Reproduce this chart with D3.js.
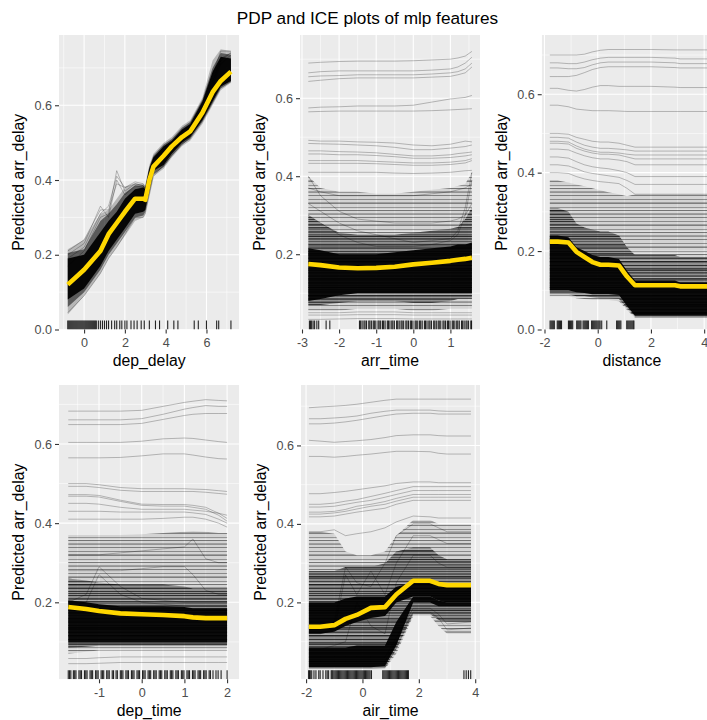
<!DOCTYPE html>
<html>
<head>
<meta charset="utf-8">
<script src="https://cdnjs.cloudflare.com/ajax/libs/d3/7.8.5/d3.min.js"></script>
<style>
  body { margin: 0; background: #fff; }
  svg { display: block; font-family: "Liberation Sans", Arial, sans-serif; }
</style>
</head>
<body>
<svg id="chart" width="707" height="720"></svg>
<script>
// ---- dep_delay ----
const depDelayGrid = [-0.8, 0, 0.8, 1.2, 1.6, 2.0, 2.5, 2.9, 3.0, 3.2, 3.4, 3.9, 4.3, 4.8, 5.2, 5.8, 6.3, 6.7, 7.2];
const depDelayPdp = [0.12, 0.16, 0.21, 0.255, 0.285, 0.315, 0.35, 0.35, 0.347, 0.40, 0.436, 0.465, 0.49, 0.515, 0.53, 0.58, 0.635, 0.665, 0.69];
const depDelayOuter = [
  [0.04, 0.09, 0.15, 0.19, 0.22, 0.25, 0.29, 0.30, 0.31, 0.36, 0.41, 0.43, 0.46, 0.49, 0.505, 0.55, 0.60, 0.64, 0.66],
  [0.215, 0.24, 0.31, 0.32, 0.35, 0.38, 0.39, 0.39, 0.385, 0.44, 0.47, 0.50, 0.515, 0.545, 0.56, 0.62, 0.72, 0.75, 0.745]
];
const depDelayMid = [
  [0.06, 0.10, 0.16, 0.20, 0.23, 0.26, 0.30, 0.305, 0.315, 0.365, 0.415, 0.435, 0.465, 0.495, 0.51, 0.555, 0.605, 0.645, 0.662],
  [0.205, 0.215, 0.29, 0.31, 0.335, 0.365, 0.385, 0.385, 0.38, 0.435, 0.465, 0.495, 0.51, 0.54, 0.555, 0.615, 0.70, 0.74, 0.735]
];
const depDelayCore = [
  [0.08, 0.11, 0.17, 0.21, 0.24, 0.27, 0.31, 0.315, 0.32, 0.375, 0.425, 0.44, 0.47, 0.50, 0.515, 0.56, 0.61, 0.65, 0.665],
  [0.19, 0.20, 0.26, 0.29, 0.315, 0.35, 0.375, 0.38, 0.375, 0.43, 0.46, 0.49, 0.505, 0.535, 0.55, 0.61, 0.69, 0.73, 0.725]
];
const depDelayLines = [
  [0.17, 0.21, 0.30, 0.31, 0.425, 0.37, 0.39, 0.385, 0.37, 0.42, 0.455, 0.475, 0.495, 0.525, 0.54, 0.59, 0.66, 0.72, 0.74],
  [0.20, 0.23, 0.33, 0.30, 0.40, 0.36, 0.385, 0.38, 0.36, 0.415, 0.45, 0.47, 0.49, 0.52, 0.535, 0.585, 0.65, 0.71, 0.735],
  [0.19, 0.22, 0.31, 0.33, 0.41, 0.38, 0.39, 0.385, 0.375, 0.425, 0.455, 0.48, 0.50, 0.53, 0.545, 0.595, 0.665, 0.725, 0.74],
  [0.045, 0.09, 0.15, 0.19, 0.22, 0.255, 0.30, 0.30, 0.31, 0.36, 0.41, 0.44, 0.465, 0.495, 0.515, 0.565, 0.615, 0.65, 0.67],
  [0.21, 0.24, 0.32, 0.32, 0.39, 0.38, 0.395, 0.39, 0.38, 0.43, 0.46, 0.48, 0.50, 0.53, 0.545, 0.595, 0.68, 0.745, 0.745]
];
const depDelayRug = [-0.8, -0.75, -0.7, -0.65, -0.6, -0.55, -0.5, -0.45, -0.4, -0.35, -0.3, -0.25, -0.2, -0.15, -0.1, -0.05,
  0, 0.05, 0.1, 0.15, 0.2, 0.25, 0.3, 0.35, 0.4, 0.45, 0.5, 0.55, 0.6, 0.7, 0.8, 0.9, 1.0, 1.1, 1.2, 1.35, 1.5, 1.6,
  1.75, 1.85, 2.0, 2.1, 2.3, 2.45, 2.6, 2.8, 2.95, 3.2, 3.5, 3.7, 4.1, 4.4, 4.6, 5.4, 5.6, 6.0, 6.5, 6.6, 7.2];
const depDelayXTicks = [0, 2, 4, 6];
const depDelayYTicks = [0, 0.2, 0.4, 0.6];

// ---- arr_time ----
const arrTimeGrid = [-2.83, -2.5, -2.0, -1.5, -1.0, -0.5, 0, 0.5, 1.0, 1.2, 1.4, 1.58];
const arrTimePdp = [0.175, 0.172, 0.166, 0.164, 0.165, 0.168, 0.174, 0.178, 0.183, 0.186, 0.188, 0.191];
const arrTimeOuter = [
  [0.055, 0.055, 0.055, 0.06, 0.06, 0.06, 0.055, 0.055, 0.06, 0.06, 0.06, 0.06],
  [0.40, 0.37, 0.36, 0.36, 0.355, 0.355, 0.36, 0.365, 0.37, 0.375, 0.38, 0.41]
];
const arrTimeMid = [
  [0.07, 0.07, 0.075, 0.08, 0.08, 0.08, 0.075, 0.075, 0.08, 0.085, 0.085, 0.085],
  [0.30, 0.28, 0.255, 0.25, 0.25, 0.25, 0.255, 0.26, 0.265, 0.27, 0.29, 0.32]
];
const arrTimeCore = [
  [0.08, 0.085, 0.095, 0.10, 0.10, 0.10, 0.10, 0.10, 0.10, 0.10, 0.10, 0.10],
  [0.215, 0.21, 0.20, 0.20, 0.20, 0.205, 0.21, 0.215, 0.22, 0.225, 0.225, 0.23]
];
const arrTimeLines = [
  [0.69, 0.692, 0.694, 0.695, 0.695, 0.695, 0.696, 0.698, 0.70, 0.703, 0.708, 0.72],
  [0.665, 0.668, 0.67, 0.67, 0.67, 0.67, 0.67, 0.672, 0.675, 0.68, 0.69, 0.705],
  [0.655, 0.657, 0.658, 0.66, 0.66, 0.66, 0.66, 0.662, 0.665, 0.668, 0.675, 0.69],
  [0.643, 0.646, 0.65, 0.652, 0.652, 0.652, 0.652, 0.654, 0.656, 0.66, 0.665, 0.68],
  [0.575, 0.577, 0.578, 0.58, 0.58, 0.58, 0.582, 0.59, 0.598, 0.60, 0.602, 0.607],
  [0.565, 0.566, 0.567, 0.567, 0.567, 0.567, 0.567, 0.568, 0.57, 0.571, 0.572, 0.573],
  [0.492, 0.49, 0.49, 0.488, 0.487, 0.485, 0.48, 0.478, 0.482, 0.486, 0.49, 0.488],
  [0.484, 0.483, 0.482, 0.48, 0.478, 0.474, 0.468, 0.468, 0.472, 0.474, 0.476, 0.48],
  [0.465, 0.465, 0.463, 0.462, 0.46, 0.456, 0.452, 0.452, 0.455, 0.458, 0.46, 0.462],
  [0.457, 0.457, 0.455, 0.455, 0.453, 0.45, 0.446, 0.446, 0.448, 0.45, 0.452, 0.455],
  [0.44, 0.44, 0.44, 0.44, 0.438, 0.436, 0.434, 0.434, 0.436, 0.438, 0.44, 0.445],
  [0.433, 0.433, 0.433, 0.433, 0.432, 0.43, 0.428, 0.428, 0.43, 0.432, 0.434, 0.44],
  [0.41, 0.41, 0.41, 0.41, 0.41, 0.408, 0.407, 0.408, 0.41, 0.412, 0.414, 0.415],
  [0.40, 0.35, 0.31, 0.29, 0.285, 0.28, 0.28, 0.28, 0.285, 0.29, 0.30, 0.33],
  [0.33, 0.31, 0.28, 0.26, 0.25, 0.24, 0.23, 0.235, 0.24, 0.26, 0.32, 0.41],
  [0.30, 0.28, 0.25, 0.23, 0.22, 0.22, 0.22, 0.225, 0.235, 0.25, 0.30, 0.39],
  [0.37, 0.36, 0.35, 0.35, 0.35, 0.35, 0.35, 0.355, 0.36, 0.365, 0.37, 0.38],
  [0.05, 0.05, 0.05, 0.052, 0.052, 0.052, 0.05, 0.05, 0.05, 0.05, 0.05, 0.05],
  [0.044, 0.044, 0.044, 0.045, 0.045, 0.045, 0.044, 0.044, 0.044, 0.044, 0.044, 0.044],
  [0.033, 0.033, 0.034, 0.035, 0.035, 0.035, 0.034, 0.034, 0.034, 0.034, 0.034, 0.034]
];
const arrTimeRug = [-2.8, -2.77, -2.74, -2.7, -2.66, -2.6, -2.55, -2.35, -2.25,
  -1.45, -1.42, -1.38, -1.33, -1.3, -1.26, -1.2, -1.17, -1.13, -1.08, -1.05, -1.01, -0.95, -0.92, -0.88, -0.83,
  -0.8, -0.76, -0.7, -0.67, -0.63, -0.58, -0.55, -0.51, -0.45, -0.42, -0.38, -0.33, -0.3, -0.26, -0.2, -0.17,
  -0.13, -0.08, -0.05, -0.01, 0.05, 0.08, 0.12, 0.17, 0.2, 0.24, 0.3, 0.33, 0.37, 0.42, 0.45, 0.49, 0.55, 0.58,
  0.62, 0.67, 0.7, 0.74, 0.8, 0.83, 0.87, 0.92, 0.95, 0.99, 1.05, 1.08, 1.12, 1.17, 1.2, 1.24, 1.3, 1.33, 1.37,
  1.42, 1.45, 1.49, 1.55, 1.57];
const arrTimeXTicks = [-3, -2, -1, 0, 1];
const arrTimeYTicks = [0.2, 0.4, 0.6];

// ---- distance ----
const distanceGrid = [-1.8, -1.5, -1.1, -0.8, -0.5, -0.2, 0.1, 0.4, 0.8, 1.1, 1.4, 2.0, 2.9, 3.1, 4.4];
const distancePdp = [0.224, 0.224, 0.222, 0.198, 0.185, 0.172, 0.165, 0.165, 0.163, 0.135, 0.113, 0.113, 0.113, 0.110, 0.110];
const distanceOuter = [
  [0.085, 0.085, 0.085, 0.08, 0.078, 0.075, 0.075, 0.075, 0.072, 0.05, 0.03, 0.03, 0.03, 0.03, 0.03],
  [0.38, 0.38, 0.375, 0.37, 0.365, 0.36, 0.355, 0.35, 0.345, 0.34, 0.345, 0.345, 0.345, 0.345, 0.345]
];
const distanceMid = [
  [0.09, 0.09, 0.09, 0.085, 0.085, 0.082, 0.08, 0.08, 0.078, 0.055, 0.033, 0.033, 0.033, 0.033, 0.033],
  [0.31, 0.31, 0.30, 0.27, 0.26, 0.255, 0.25, 0.25, 0.24, 0.21, 0.19, 0.19, 0.19, 0.185, 0.185]
];
const distanceCore = [
  [0.10, 0.10, 0.10, 0.095, 0.093, 0.09, 0.09, 0.09, 0.088, 0.06, 0.035, 0.035, 0.035, 0.035, 0.035],
  [0.24, 0.24, 0.235, 0.21, 0.20, 0.19, 0.185, 0.185, 0.18, 0.15, 0.125, 0.125, 0.125, 0.12, 0.12]
];
const distanceLines = [
  [0.70, 0.70, 0.70, 0.70, 0.702, 0.708, 0.712, 0.714, 0.714, 0.714, 0.714, 0.714, 0.713, 0.713, 0.713],
  [0.68, 0.68, 0.678, 0.678, 0.682, 0.688, 0.692, 0.694, 0.694, 0.694, 0.694, 0.694, 0.692, 0.69, 0.69],
  [0.667, 0.667, 0.665, 0.665, 0.668, 0.675, 0.68, 0.682, 0.682, 0.682, 0.682, 0.682, 0.68, 0.678, 0.678],
  [0.645, 0.645, 0.645, 0.648, 0.655, 0.663, 0.668, 0.67, 0.67, 0.67, 0.67, 0.67, 0.668, 0.667, 0.667],
  [0.615, 0.615, 0.61, 0.608, 0.612, 0.618, 0.622, 0.622, 0.62, 0.62, 0.62, 0.62, 0.618, 0.617, 0.617],
  [0.572, 0.572, 0.568, 0.562, 0.56, 0.558, 0.558, 0.558, 0.557, 0.556, 0.556, 0.556, 0.556, 0.556, 0.556],
  [0.50, 0.50, 0.498, 0.49, 0.485, 0.48, 0.478, 0.478, 0.475, 0.47, 0.465, 0.465, 0.465, 0.465, 0.465],
  [0.49, 0.49, 0.488, 0.478, 0.47, 0.465, 0.462, 0.462, 0.46, 0.458, 0.455, 0.455, 0.455, 0.455, 0.455],
  [0.48, 0.48, 0.478, 0.468, 0.46, 0.455, 0.452, 0.452, 0.45, 0.447, 0.445, 0.445, 0.445, 0.445, 0.445],
  [0.475, 0.475, 0.473, 0.462, 0.455, 0.45, 0.447, 0.447, 0.445, 0.44, 0.435, 0.435, 0.435, 0.435, 0.435],
  [0.46, 0.46, 0.458, 0.45, 0.443, 0.438, 0.435, 0.435, 0.432, 0.428, 0.42, 0.42, 0.42, 0.42, 0.42],
  [0.44, 0.44, 0.437, 0.428, 0.42, 0.415, 0.412, 0.41, 0.405, 0.40, 0.39, 0.39, 0.39, 0.39, 0.39],
  [0.42, 0.42, 0.417, 0.41, 0.402, 0.398, 0.395, 0.392, 0.388, 0.38, 0.37, 0.37, 0.37, 0.37, 0.37],
  [0.40, 0.40, 0.398, 0.39, 0.384, 0.38, 0.377, 0.375, 0.372, 0.36, 0.345, 0.345, 0.345, 0.345, 0.345]
];
const distanceRug = [-1.79, -1.75, -1.71, -1.67, -1.63, -1.52, -1.48, -1.44, -1.40, -1.36, -1.10, -1.06, -1.02, -0.98,
  -0.94, -0.79, -0.75, -0.71, -0.67, -0.63, -0.55, -0.51, -0.47, -0.43, -0.39, -0.35, -0.23, -0.19, -0.15, -0.11,
  -0.07, -0.03, 0.01, 0.05, 0.09, 0.15, 0.34, 0.71, 0.75, 0.79, 0.83, 0.87, 1.09, 1.13, 1.17, 1.21, 1.25, 1.29,
  1.33, 1.36];
const distanceXTicks = [-2, 0, 2, 4];
const distanceYTicks = [0, 0.2, 0.4, 0.6];

// ---- dep_time ----
const depTimeGrid = [-1.72, -1.3, -1.0, -0.5, 0, 0.5, 1.0, 1.2, 1.5, 1.8, 2.0];
const depTimePdp = [0.188, 0.183, 0.178, 0.172, 0.17, 0.168, 0.165, 0.162, 0.16, 0.16, 0.16];
const depTimeOuter = [
  [0.07, 0.075, 0.078, 0.078, 0.078, 0.078, 0.078, 0.078, 0.078, 0.078, 0.078],
  [0.37, 0.37, 0.37, 0.37, 0.372, 0.375, 0.378, 0.38, 0.378, 0.375, 0.375]
];
const depTimeMid = [
  [0.085, 0.088, 0.09, 0.09, 0.09, 0.09, 0.09, 0.09, 0.09, 0.09, 0.09],
  [0.26, 0.255, 0.25, 0.245, 0.245, 0.245, 0.24, 0.235, 0.235, 0.235, 0.235]
];
const depTimeCore = [
  [0.10, 0.10, 0.10, 0.10, 0.10, 0.10, 0.10, 0.10, 0.10, 0.10, 0.10],
  [0.205, 0.20, 0.195, 0.19, 0.19, 0.19, 0.188, 0.185, 0.185, 0.185, 0.185]
];
const depTimeLines = [
  [0.683, 0.683, 0.683, 0.683, 0.685, 0.695, 0.705, 0.708, 0.712, 0.71, 0.709],
  [0.661, 0.661, 0.661, 0.661, 0.664, 0.675, 0.688, 0.692, 0.697, 0.695, 0.695],
  [0.649, 0.649, 0.649, 0.649, 0.652, 0.662, 0.672, 0.675, 0.677, 0.677, 0.677],
  [0.604, 0.604, 0.604, 0.604, 0.607, 0.613, 0.615, 0.614, 0.61, 0.606, 0.604],
  [0.565, 0.565, 0.565, 0.566, 0.57, 0.575, 0.575, 0.572, 0.567, 0.563, 0.562],
  [0.50, 0.50, 0.497, 0.49, 0.487, 0.487, 0.487, 0.486, 0.485, 0.482, 0.48],
  [0.493, 0.493, 0.49, 0.483, 0.48, 0.48, 0.48, 0.48, 0.478, 0.475, 0.473],
  [0.472, 0.472, 0.47, 0.458, 0.448, 0.447, 0.447, 0.445, 0.44, 0.425, 0.412],
  [0.468, 0.468, 0.466, 0.455, 0.445, 0.443, 0.443, 0.44, 0.435, 0.42, 0.405],
  [0.45, 0.45, 0.448, 0.44, 0.435, 0.435, 0.435, 0.433, 0.43, 0.425, 0.42],
  [0.43, 0.43, 0.43, 0.428, 0.428, 0.428, 0.428, 0.426, 0.422, 0.41, 0.40],
  [0.41, 0.41, 0.41, 0.41, 0.41, 0.412, 0.415, 0.415, 0.41, 0.40, 0.39],
  [0.20, 0.22, 0.29, 0.24, 0.21, 0.205, 0.20, 0.20, 0.20, 0.20, 0.20],
  [0.19, 0.20, 0.27, 0.22, 0.20, 0.195, 0.19, 0.19, 0.19, 0.19, 0.19],
  [0.32, 0.32, 0.32, 0.325, 0.33, 0.335, 0.34, 0.36, 0.31, 0.30, 0.30],
  [0.28, 0.28, 0.28, 0.28, 0.285, 0.29, 0.29, 0.27, 0.23, 0.22, 0.22],
  [0.058, 0.058, 0.06, 0.062, 0.062, 0.062, 0.062, 0.062, 0.062, 0.062, 0.062],
  [0.045, 0.045, 0.046, 0.048, 0.048, 0.048, 0.048, 0.048, 0.048, 0.048, 0.048]
];
const depTimeRug = [-1.72, -1.69, -1.66, -1.6, -1.57, -1.54, -1.47, -1.44, -1.41, -1.34, -1.31, -1.28, -1.21, -1.18,
  -1.15, -1.08, -1.05, -1.02, -0.95, -0.92, -0.89, -0.82, -0.79, -0.76, -0.69, -0.66, -0.6, -0.57, -0.5, -0.47,
  -0.44, -0.37, -0.34, -0.31, -0.24, -0.21, -0.18, -0.11, -0.08, -0.05, 0.02, 0.05, 0.08, 0.15, 0.18, 0.21, 0.28,
  0.31, 0.34, 0.41, 0.44, 0.47, 0.54, 0.57, 0.6, 0.67, 0.7, 0.73, 0.8, 0.83, 0.86, 0.93, 0.96, 0.99, 1.06, 1.09,
  1.12, 1.19, 1.22, 1.25, 1.32, 1.35, 1.38, 1.45, 1.48, 1.51, 1.58, 1.61, 1.67, 1.74, 1.79, 1.86, 2.0];
const depTimeXTicks = [-1, 0, 1, 2];
const depTimeYTicks = [0.2, 0.4, 0.6];

// ---- air_time ----
const airTimeGrid = [-1.9, -1.5, -1.0, -0.6, -0.2, 0.3, 0.8, 1.2, 1.8, 2.4, 2.7, 3.0, 3.85];
const airTimePdp = [0.138, 0.138, 0.142, 0.158, 0.168, 0.186, 0.188, 0.22, 0.255, 0.255, 0.247, 0.244, 0.244];
const airTimeOuter = [
  [0.03, 0.03, 0.03, 0.03, 0.03, 0.03, 0.03, 0.07, 0.165, 0.165, 0.14, 0.12, 0.12],
  [0.38, 0.38, 0.375, 0.33, 0.32, 0.32, 0.33, 0.37, 0.41, 0.41, 0.40, 0.40, 0.40]
];
const airTimeMid = [
  [0.03, 0.03, 0.03, 0.03, 0.03, 0.03, 0.033, 0.08, 0.17, 0.17, 0.155, 0.15, 0.15],
  [0.28, 0.28, 0.28, 0.29, 0.29, 0.29, 0.30, 0.33, 0.34, 0.34, 0.32, 0.31, 0.31]
];
const airTimeCoreLow = [
  [0.035, 0.035, 0.035, 0.035, 0.035, 0.035, 0.038, 0.09, 0.20, 0.20, 0.19, 0.19, 0.19],
  [0.085, 0.085, 0.085, 0.085, 0.09, 0.09, 0.09, 0.15, 0.215, 0.215, 0.205, 0.20, 0.20]
];
const airTimeCore = [
  [0.12, 0.12, 0.125, 0.14, 0.15, 0.16, 0.165, 0.20, 0.215, 0.215, 0.205, 0.20, 0.20],
  [0.20, 0.20, 0.20, 0.21, 0.215, 0.215, 0.215, 0.24, 0.25, 0.25, 0.245, 0.24, 0.24]
];
const airTimeLines = [
  [0.696, 0.698, 0.70, 0.702, 0.705, 0.71, 0.715, 0.718, 0.718, 0.718, 0.718, 0.718, 0.718],
  [0.668, 0.668, 0.67, 0.672, 0.675, 0.682, 0.687, 0.69, 0.69, 0.69, 0.688, 0.687, 0.687],
  [0.655, 0.655, 0.657, 0.66, 0.664, 0.67, 0.676, 0.68, 0.682, 0.682, 0.68, 0.68, 0.68],
  [0.613, 0.611, 0.608, 0.61, 0.612, 0.615, 0.62, 0.625, 0.627, 0.627, 0.625, 0.624, 0.624],
  [0.572, 0.572, 0.57, 0.572, 0.575, 0.578, 0.582, 0.585, 0.585, 0.584, 0.58, 0.578, 0.578],
  [0.477, 0.477, 0.48, 0.483, 0.487, 0.492, 0.497, 0.503, 0.507, 0.507, 0.505, 0.505, 0.505],
  [0.45, 0.45, 0.453, 0.458, 0.462, 0.47, 0.478, 0.485, 0.495, 0.495, 0.495, 0.495, 0.495],
  [0.443, 0.443, 0.445, 0.45, 0.455, 0.46, 0.468, 0.475, 0.485, 0.485, 0.485, 0.485, 0.485],
  [0.43, 0.43, 0.432, 0.437, 0.445, 0.45, 0.457, 0.465, 0.475, 0.475, 0.475, 0.475, 0.475],
  [0.425, 0.425, 0.428, 0.432, 0.438, 0.445, 0.45, 0.458, 0.468, 0.468, 0.468, 0.468, 0.468],
  [0.418, 0.418, 0.42, 0.425, 0.43, 0.435, 0.44, 0.45, 0.46, 0.46, 0.46, 0.46, 0.46],
  [0.38, 0.38, 0.385, 0.37, 0.375, 0.38, 0.39, 0.405, 0.42, 0.418, 0.415, 0.415, 0.415],
  [0.14, 0.14, 0.15, 0.29, 0.25, 0.24, 0.30, 0.37, 0.40, 0.40, 0.39, 0.38, 0.38],
  [0.12, 0.12, 0.13, 0.27, 0.22, 0.28, 0.22, 0.30, 0.37, 0.37, 0.36, 0.35, 0.35],
  [0.08, 0.08, 0.09, 0.10, 0.20, 0.14, 0.12, 0.25, 0.32, 0.32, 0.30, 0.29, 0.29],
  [0.05, 0.05, 0.05, 0.05, 0.05, 0.05, 0.05, 0.10, 0.175, 0.175, 0.16, 0.13, 0.135],
  [0.06, 0.06, 0.06, 0.06, 0.06, 0.06, 0.06, 0.11, 0.185, 0.185, 0.17, 0.145, 0.15]
];
const airTimeRug = [-1.91, -1.88, -1.85, -1.8, -1.72, -1.65, -1.55, -1.5, -1.4, -1.3, -1.25, -1.2, -1.11, -1.08,
  -1.05, -1.01, -0.97, -0.93, -0.89, -0.85, -0.81, -0.77, -0.73, -0.69, -0.65, -0.61, -0.57, -0.53, -0.49, -0.45,
  -0.41, -0.37, -0.33, -0.29, -0.25, -0.21, -0.17, -0.13, -0.09, -0.05, -0.01, 0.03, 0.07, 0.11, 0.15, 0.19, 0.23,
  0.27, 0.32, 0.72, 0.76, 0.8, 0.84, 0.88, 0.92, 0.96, 1.0, 1.04, 1.08, 1.12, 1.16, 1.2, 1.24, 1.28, 1.32, 1.36,
  1.4, 1.44, 1.48, 1.52, 1.56, 1.6, 1.63, 3.6, 3.68, 3.76, 3.84];
const airTimeXTicks = [-2, 0, 2, 4];
const airTimeYTicks = [0.2, 0.4, 0.6];

// layout of the five ggplot panels (pixel boxes and axis limits)
const panels = [
  { name: 'dep_delay', grid: depDelayGrid, pdp: depDelayPdp, bands: [depDelayOuter, depDelayMid, depDelayCore],
    lines: depDelayLines, rug: depDelayRug, xTicks: depDelayXTicks, yTicks: depDelayYTicks, striped: false,
    box: [59, 35, 239.3, 329.5], xDom: [-1.23, 7.61], yDom: [0, 0.788] },
  { name: 'arr_time', grid: arrTimeGrid, pdp: arrTimePdp, bands: [arrTimeOuter, arrTimeMid, arrTimeCore],
    lines: arrTimeLines, rug: arrTimeRug, xTicks: arrTimeXTicks, yTicks: arrTimeYTicks, striped: true,
    box: [300, 35, 480, 329.5], xDom: [-3.054, 1.798], yDom: [0.007, 0.762] },
  { name: 'distance', grid: distanceGrid, pdp: distancePdp, bands: [distanceOuter, distanceMid, distanceCore],
    lines: distanceLines, rug: distanceRug, xTicks: distanceXTicks, yTicks: distanceYTicks, striped: true,
    box: [541.7, 35, 722, 329.5], xDom: [-2.105, 4.67], yDom: [0, 0.751] },
  { name: 'dep_time', grid: depTimeGrid, pdp: depTimePdp, bands: [depTimeOuter, depTimeMid, depTimeCore],
    lines: depTimeLines, rug: depTimeRug, xTicks: depTimeXTicks, yTicks: depTimeYTicks, striped: true,
    box: [59, 385, 239.3, 679.3], xDom: [-1.937, 2.286], yDom: [0.0055, 0.749] },
  { name: 'air_time', grid: airTimeGrid, pdp: airTimePdp, bands: [airTimeOuter, airTimeMid, airTimeCoreLow, airTimeCore],
    lines: airTimeLines, rug: airTimeRug, xTicks: airTimeXTicks, yTicks: airTimeYTicks, striped: true,
    box: [301, 385, 480, 679.3], xDom: [-2.18, 4.17], yDom: [0.004, 0.754] }
];

const bandOpacity = [0.22, 0.5, 0.93, 0.93];

const svg = d3.select('#chart');
svg.append('rect').attr('width', 707).attr('height', 720).attr('fill', '#fff');

// horizontal hatch patterns imitate many overlapping, nearly flat ICE curves
const defs = svg.append('defs');
function makePattern(id, h, base, rows) {
  const pat = defs.append('pattern').attr('id', id)
    .attr('patternUnits', 'userSpaceOnUse').attr('width', 8).attr('height', h);
  pat.append('rect').attr('width', 8).attr('height', h).attr('fill', '#000').attr('fill-opacity', base);
  rows.forEach(([yy, op]) => {
    pat.append('rect').attr('y', yy).attr('width', 8).attr('height', 1)
      .attr('fill', op < 0 ? '#fff' : '#000').attr('fill-opacity', Math.abs(op));
  });
}
makePattern('hatchOuter', 22, 0.1, [[1, 0.35], [4, 0.25], [5, 0.4], [9, 0.3], [11, -0.3], [12, 0.45], [15, 0.25], [16, 0.3], [19, 0.4]]);
makePattern('hatchMid', 17, 0.32, [[0, 0.5], [3, 0.4], [5, -0.25], [6, 0.6], [7, 0.3], [10, 0.5], [13, 0.4], [15, 0.6]]);

svg.append('text')
  .attr('x', 367.5).attr('y', 23.5)
  .attr('text-anchor', 'middle')
  .style('font-size', '17.2px')
  .text('PDP and ICE plots of mlp features');

function minorTicks(ticks, dom) {
  const step = ticks[1] - ticks[0];
  const out = [];
  for (let t = ticks[0] - step * 1.5; t <= dom[1]; t += step) {
    if (t >= dom[0]) out.push(t);
  }
  return out;
}

panels.forEach((p, pi) => {
  const [x0, y0, x1, y1] = p.box;
  const x = d3.scaleLinear().domain(p.xDom).range([x0, x1]);
  const y = d3.scaleLinear().domain(p.yDom).range([y1, y0]);

  const clipId = 'clip' + pi;
  svg.append('clipPath').attr('id', clipId)
    .append('rect').attr('x', x0).attr('y', y0).attr('width', x1 - x0).attr('height', y1 - y0);

  const g = svg.append('g').attr('clip-path', `url(#${clipId})`);

  // panel background + grid
  g.append('rect').attr('x', x0).attr('y', y0).attr('width', x1 - x0).attr('height', y1 - y0)
    .attr('fill', '#EBEBEB');
  const gridG = g.append('g').attr('stroke', '#fff').attr('fill', 'none');
  minorTicks(p.yTicks, p.yDom).forEach(v => {
    gridG.append('line').attr('x1', x0).attr('x2', x1).attr('y1', y(v)).attr('y2', y(v)).attr('stroke-width', 0.55);
  });
  minorTicks(p.xTicks, p.xDom).forEach(v => {
    gridG.append('line').attr('y1', y0).attr('y2', y1).attr('x1', x(v)).attr('x2', x(v)).attr('stroke-width', 0.55);
  });
  p.yTicks.forEach(v => {
    gridG.append('line').attr('x1', x0).attr('x2', x1).attr('y1', y(v)).attr('y2', y(v)).attr('stroke-width', 1.1);
  });
  p.xTicks.forEach(v => {
    gridG.append('line').attr('y1', y0).attr('y2', y1).attr('x1', x(v)).attr('x2', x(v)).attr('stroke-width', 1.1);
  });

  // ICE density bands
  const area = d3.area()
    .x(d => x(d.x))
    .y0(d => y(d.lo))
    .y1(d => y(d.hi));
  p.bands.forEach((band, bi) => {
    const pts = p.grid.map((gx, i) => ({ x: gx, lo: band[0][i], hi: band[1][i] }));
    const path = g.append('path').datum(pts).attr('d', area);
    if (p.striped && bi < 2) {
      path.attr('fill', bi === 0 ? 'url(#hatchOuter)' : 'url(#hatchMid)');
    } else {
      path.attr('fill', '#000').attr('fill-opacity', bandOpacity[bi]);
    }
  });

  // individual ICE curves
  const line = d3.line().x(d => x(d.x)).y(d => y(d.v));
  g.append('g').selectAll('path')
    .data(p.lines)
    .join('path')
    .attr('d', vals => line(p.grid.map((gx, i) => ({ x: gx, v: vals[i] }))))
    .attr('fill', 'none')
    .attr('stroke', '#000')
    .attr('stroke-opacity', 0.28)
    .attr('stroke-width', 0.9);

  // PDP
  g.append('path')
    .datum(p.grid.map((gx, i) => ({ x: gx, v: p.pdp[i] })))
    .attr('d', line)
    .attr('fill', 'none')
    .attr('stroke', '#FFD700')
    .attr('stroke-width', 4.6)
    .attr('stroke-linejoin', 'round');

  // rug
  g.append('g').selectAll('line')
    .data(p.rug)
    .join('line')
    .attr('x1', d => x(d)).attr('x2', d => x(d))
    .attr('y1', y1).attr('y2', y1 - 9)
    .attr('stroke', '#000')
    .attr('stroke-opacity', 0.85)
    .attr('stroke-width', 1.1);

  // axes
  const xAxis = svg.append('g')
    .attr('transform', `translate(0,${y1})`)
    .call(d3.axisBottom(x).tickValues(p.xTicks).tickSize(4).tickPadding(4.5).tickFormat(d => String(d)));
  const yAxis = svg.append('g')
    .attr('transform', `translate(${x0},0)`)
    .call(d3.axisLeft(y).tickValues(p.yTicks).tickSize(4).tickPadding(3).tickFormat(d3.format('.1f')));
  [xAxis, yAxis].forEach(ax => {
    ax.attr('font-family', null).attr('font-size', null);
    ax.select('.domain').remove();
    ax.selectAll('.tick line').attr('stroke', '#333').attr('stroke-width', 1.1);
    ax.selectAll('.tick text').attr('fill', '#4D4D4D').style('font-size', '12.6px');
  });

  // axis titles
  svg.append('text')
    .attr('x', (x0 + x1) / 2).attr('y', y1 + 36.5)
    .attr('text-anchor', 'middle')
    .style('font-size', '15.8px')
    .text(p.name);
  svg.append('text')
    .attr('transform', `translate(${x0 - 34.7},${(y0 + y1) / 2}) rotate(-90)`)
    .attr('text-anchor', 'middle')
    .style('font-size', '15.8px')
    .text('Predicted arr_delay');
});
</script>
</body>
</html>
